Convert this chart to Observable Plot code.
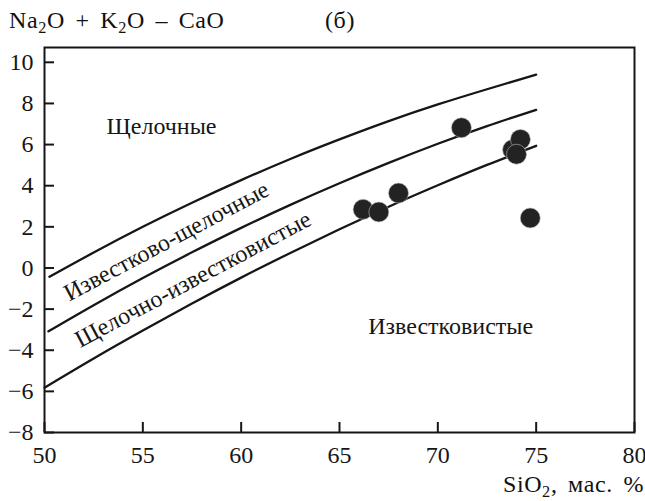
<!DOCTYPE html>
<html><head><meta charset="utf-8">
<script src="https://cdn.jsdelivr.net/npm/d3@7"></script>
<script src="https://cdn.jsdelivr.net/npm/@observablehq/plot@0.6"></script>
<style>
body{margin:0;background:#fff;}
#wrap{position:relative;width:645px;height:501px;font-family:'Liberation Serif';color:#111;}
.lbl{position:absolute;white-space:nowrap;font-family:'Liberation Serif';font-size:24px;line-height:24px;letter-spacing:0.6px;word-spacing:4px;}
.lbl sub{font-size:0.68em;vertical-align:-0.28em;line-height:0;}
#chart{position:absolute;left:0;top:0;}
#chart svg text{font-family:'Liberation Serif';}
</style></head><body>
<div id="wrap">
<div id="chart"></div>
<div class="lbl" style="left:9px;top:8px">Na<sub>2</sub>O + K<sub>2</sub>O – CaO</div>
<div class="lbl" style="left:325px;top:8px">(б)</div>
<div class="lbl" style="right:1px;top:472px">SiO<sub>2</sub>, мас. %</div>
</div>
<script>
// axis ticks
const xTicks = [50, 55, 60, 65, 70, 75, 80];
const yTicks = [-8, -6, -4, -2, 0, 2, 4, 6, 8, 10];

// boundary curves (SiO2 vs Na2O+K2O-CaO)
const upperX = [50.25, 52.5, 55, 57.5, 60, 62.5, 65, 67.5, 70, 72.5, 75];
const upperY = [-0.43, 0.75, 2.00, 3.17, 4.27, 5.30, 6.25, 7.14, 7.95, 8.69, 9.40];
const middleX = [50.2, 52.5, 55, 57.5, 60, 62.5, 65, 67.5, 70, 72.5, 75];
const middleY = [-3.08, -1.81, -0.49, 0.76, 1.95, 3.07, 4.12, 5.11, 6.04, 6.90, 7.69];
const lowerX = [50, 52.5, 55, 57.5, 60, 62.5, 65, 67.5, 70, 72.5, 75];
const lowerY = [-5.82, -4.40, -3.04, -1.73, -0.47, 0.73, 1.88, 2.98, 4.02, 5.01, 5.94];

// samples
const sampleSiO2 = [66.2, 67.0, 68.0, 71.2, 73.8, 74.2, 74.0, 74.7];
const sampleMALI = [2.85, 2.72, 3.64, 6.82, 5.75, 6.25, 5.53, 2.43];

// field names
const fieldNames = ["Щелочные", "Известково-щелочные", "Щелочно-известковистые", "Известковистые"];
const fieldX = [55.95, 56.2, 57.55, 70.65];
const fieldY = [6.9, 1.3, -0.55, -2.85];

const toPts = (xs, ys) => xs.map((x, i) => ({x, y: ys[i]}));
const curves = [toPts(upperX, upperY), toPts(middleX, middleY), toPts(lowerX, lowerY)];
const samples = toPts(sampleSiO2, sampleMALI);
const fields = fieldNames.map((t, i) => ({t, x: fieldX[i], y: fieldY[i], rot: (i === 1 || i === 2) ? -28 : 0}));

const ink = "#161616";
const plot = Plot.plot({
  width: 645, height: 501,
  marginLeft: 44, marginRight: 11, marginTop: 47, marginBottom: 69,
  style: {fontFamily: "Liberation Serif", fontSize: "24px", color: ink, background: "transparent"},
  x: {domain: [50, 80]},
  y: {domain: [-8, 10.72]},
  marks: [
    ...curves.map(c => Plot.line(c, {x: "x", y: "y", curve: "natural", stroke: ink, strokeWidth: 2.3})),
    Plot.frame({stroke: ink, strokeWidth: 2}),
    Plot.axisX({ticks: xTicks, tickSize: -10, tickFormat: () => "", label: null, strokeWidth: 2}),
    Plot.axisX({ticks: xTicks, tickSize: 0, tickPadding: 13, label: null, fill: ink, fontSize: 24}),
    Plot.axisY({ticks: yTicks, tickSize: -10, tickFormat: () => "", label: null, strokeWidth: 2}),
    Plot.axisY({ticks: yTicks, tickSize: 0, tickPadding: 11, label: null, fill: ink, fontSize: 24}),
    Plot.dot(samples, {x: "x", y: "y", r: 10, fill: "#232323", stroke: "#bbb", strokeWidth: 0.6}),
    ...fields.map(f => Plot.text([f], {x: "x", y: "y", text: "t", rotate: f.rot, fontSize: 24, fill: ink}))
  ]
});
document.getElementById("chart").appendChild(plot);
</script>
</body></html>
